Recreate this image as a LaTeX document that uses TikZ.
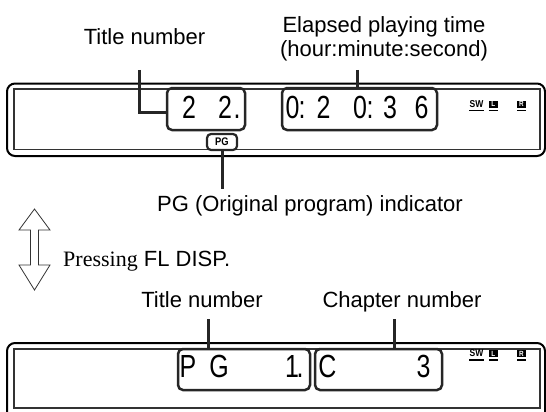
\documentclass[tikz,border=0pt]{standalone}
\usepackage{fontspec}
\setmainfont{Liberation Serif}
\setsansfont{Liberation Sans}
\newfontfamily\segfont[FakeStretch=0.78]{Liberation Sans}
\newfontfamily\chanfont[FakeStretch=0.85]{Liberation Sans}
\usetikzlibrary{positioning,calc}

\newcommand{\lblfont}{\sffamily\fontsize{22}{24}\selectfont}

\begin{document}
\begin{tikzpicture}[
    x=1pt, y=-1pt,
    frame/.style={
        draw=black, line width=2pt,
        rounded corners=8pt, inner sep=0pt
    },
    panel/.style={draw=black!80, line width=1.3pt, inner sep=0pt},
    segbox/.style={
        draw=black!85, line width=2.5pt,
        rounded corners=5pt, inner sep=0pt
    },
    seg/.style={font=\segfont\fontsize{32}{32}\selectfont, inner sep=0pt, anchor=base},
    lbl/.style={font=\lblfont, inner sep=0pt, anchor=base},
    lead/.style={draw=black!85, line width=3pt},
    chan/.style={font=\chanfont\bfseries\fontsize{10}{10}\selectfont, inner sep=0pt},
    chanbox/.style={
        fill=black, text=white, inner sep=0pt,
        minimum width=8.5pt, minimum height=7pt,
        font=\chanfont\bfseries\fontsize{7.5}{7.5}\selectfont
    },
    uline/.style={draw=black, line width=1.4pt},
    dblarrow/.style={draw=black!80, line width=0.8pt, fill=white}
    ]

    \useasboundingbox (0,0) rectangle (546,412);
    \clip (0,0) rectangle (546,412);

    %% -- upper display ------------------------------------------------
    \node[frame, minimum width=538, minimum height=72.5] (disp1) at (276,119.75) {};
    \node[panel, minimum width=526, minimum height=60.5] (pan1) at (277,119.25) {};

    \node[segbox, minimum width=78, minimum height=42] (tbox) at (206,109) {};
    \node[segbox, minimum width=155, minimum height=42] (ebox) at (359.5,109) {};
    \node[segbox, minimum width=30, minimum height=16, rounded corners=4pt,
          line width=2.2pt, font=\chanfont\bfseries\fontsize{11}{11}\selectfont] (pgbox) at (222,142) {PG};

    \foreach \ch/\x [count=\i] in {2/189, 2/225, ./237}
        \node[seg] (ta\i) at (\x,118) {\ch};
    \foreach \ch/\x [count=\i] in {0/292.5, :/302, 2/323.5, 0/360, :/370, 3/390, 6/421.5}
        \node[seg] (tb\i) at (\x,118) {\ch};

    %% -- lower display ------------------------------------------------
    \node[frame, minimum width=538, minimum height=87] (disp2) at (276,386.5) {};
    \node[panel, minimum width=526, minimum height=59] (pan2) at (277,378.5) {};

    \node[segbox, minimum width=132, minimum height=41] (pbox) at (244,369.5) {};
    \node[segbox, minimum width=127, minimum height=41] (cbox) at (378.5,369.5) {};

    \foreach \ch/\x [count=\i] in {P/188, G/219, 1/292, ./300}
        \node[seg] (pa\i) at (\x,377) {\ch};
    \foreach \ch/\x [count=\i] in {C/327.5, 3/423.5}
        \node[seg] (pc\i) at (\x,377) {\ch};

    %% -- channel indicators -------------------------------------------
    \foreach \d/\yy in {1/104, 2/353.5}{
        \node[chan] (sw\d) at (476.5,\yy) {SW};
        \node[chanbox] (cl\d) at (493.3,\yy) {L};
        \node[chanbox] (cr\d) at (521.5,\yy) {R};
        \foreach \n in {sw\d, cl\d, cr\d}
            \draw[uline] ($(\n.south west)+(0,2.7)$) -- ($(\n.south east)+(0,2.7)$);
    }

    %% -- labels -------------------------------------------------------
    \node[lbl] (tnum) at (144.5,45) {Title number};
    \node[lbl, align=center, anchor=center] (elap) at (384,39.3)
        {Elapsed playing time\\(hour:minute:second)};
    \node[lbl] (pgnote) at (310,211) {PG (Original program) indicator};
    \node[lbl, anchor=base west] (press) at (63,266) {{\rmfamily Pressing} FL DISP.};
    \node[lbl] (tnum2) at (202,307) {Title number};
    \node[lbl] (chap) at (402,307) {Chapter number};

    %% -- leaders ------------------------------------------------------
    \coordinate (tnumend) at (139,70);
    \coordinate (elapend) at (357,70);
    \coordinate (pgend) at (222,189);
    \coordinate (tnum2end) at (208,319);
    \coordinate (chapend) at (394,319);

    \draw[lead] (tnumend) |- ([yshift=-3pt]tbox.west);
    \draw[lead] (elapend) -- (elapend |- ebox.north);
    \draw[lead] (pgbox.south) -- (pgend);
    \draw[lead] (tnum2end) -- (tnum2end |- pbox.north);
    \draw[lead] (chapend) -- (chapend |- cbox.north);

    %% -- double arrow -------------------------------------------------
    \draw[dblarrow] (34.5,209) -- (50,230) -- (38.5,230) -- (38.5,265)
        -- (50,265) -- (34.5,290) -- (19,265) -- (30.5,265) -- (30.5,230)
        -- (19,230) -- cycle;

\end{tikzpicture}
\end{document}
